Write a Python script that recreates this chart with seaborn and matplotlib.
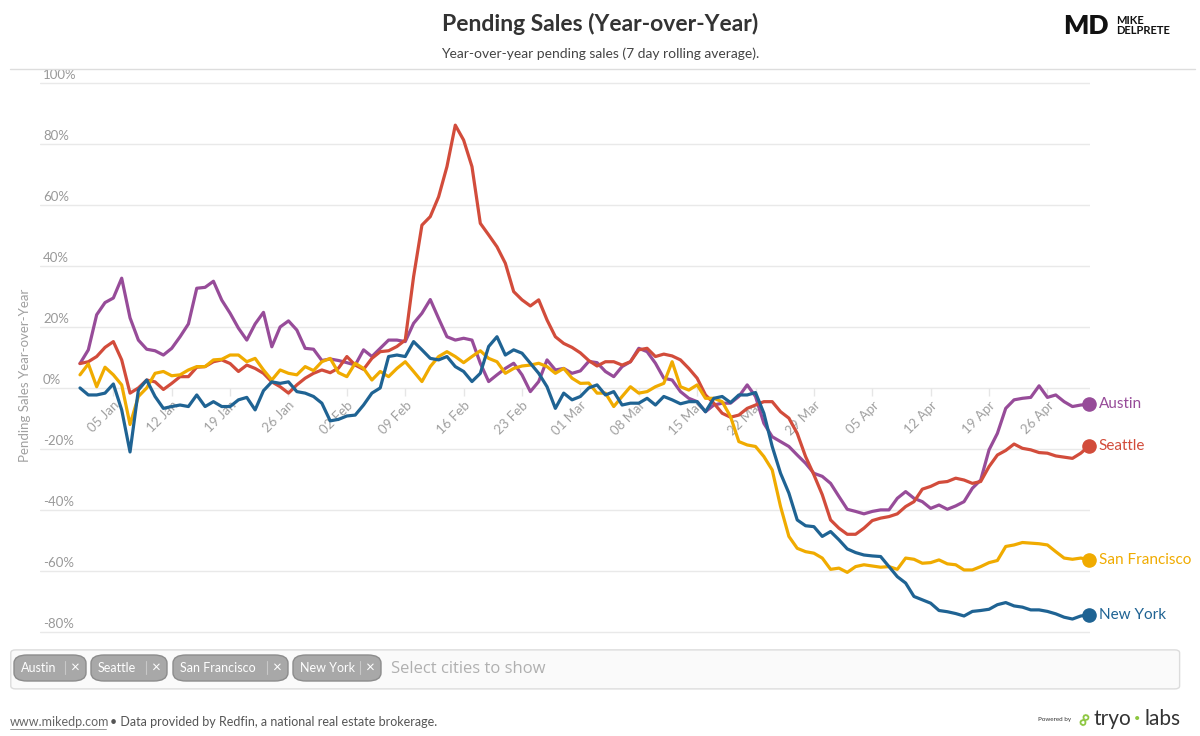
import numpy as np
import pandas as pd
import seaborn as sns
import matplotlib.pyplot as plt
from matplotlib.patches import FancyBboxPatch

# Year-over-year pending sales (%), daily from 2020-01-01 to 2020-05-01
start_date = "2020-01-01"

austin = [
    8, 12.5, 24, 28, 29.5, 36, 23, 15.7, 12.7, 12.2, 10.8, 13, 16.8, 21, 32.7, 33, 35, 28.8, 24.5, 19.6,
    15.7, 21, 24.8, 13.5, 20, 22, 19, 13, 12.7, 9, 9.5, 9,
    8.3, 7.5, 12.5, 10.3, 13, 15.7, 15.7, 15.2, 21.2, 24.5, 29, 22.8, 16.8, 15.7, 16.3, 15.7, 8.1, 2.1,
    4.3, 6.4, 8.1, 4.3, -1.2, 2.1, 9.2, 5.9, 6.4, 4.8, 5.6, 8.7, 8.3,
    5.4, 3.7, 7, 8.6, 13, 11.9, 8.1, 3.2, 2.6, -1.2, -3.4, -4.5, -7.8, -5.6, -5, -5, -2.8, 1, -2.8,
    -11.6, -16, -17.6, -19.2, -22, -24.7, -28, -29, -31.3, -35.6, -39.8, -40.5,
    -41.3, -40.5, -40, -40, -36.2, -34, -36.2, -37.3, -39.5, -38.4, -39.8, -38.7, -37.3, -32.9, -30.2,
    -20.3, -14.9, -6.7, -3.9, -3.4, -3.1, 0.7, -3.1, -2.3, -4.5, -6.1, -5.6, -5.4,
]
seattle = [
    8, 8.6, 10.3, 13.3, 15.2, 9.2, -1.7, 0, 2.6, 2, -0.5, 1.5, 3.7, 3.7, 6.8, 7, 8.6, 9.2, 8, 5.4,
    7.5, 6.4, 4.8, 2, 0.4, -1.7, 1, 3.2, 4.8, 5.9, 5, 6.5,
    10.3, 7.5, 6.1, 9.7, 11.9, 12.2, 13.6, 15.7, 36.5, 53.4, 56.2, 62.7, 72.6, 86.2, 81.3, 72.6, 54, 50.2,
    46.3, 40.9, 31.6, 28.9, 26.9, 28.9, 22.3, 16.8, 14.6, 13.3, 11.5, 9, 7.2,
    8.6, 8.6, 7.5, 8.6, 12.5, 13, 10.3, 11.1, 10.5, 9.2, 6.4, 3.2, -2.3, -5, -8.3, -9.6, -8.9, -6.7, -5.6,
    -4.5, -4.5, -7.8, -9.9, -14.9, -22.5, -28.5, -35, -43.3, -46, -48, -48,
    -46, -43.5, -42.7, -42.2, -41.3, -38.9, -37.3, -33.2, -32.3, -31, -30.7, -29.6, -30.2, -31.3, -30.7,
    -25.8, -22, -20.5, -18.4, -19.8, -20.3, -21.2, -21.4, -22.3, -22.7, -23.1, -21.4, -19,
]
san_francisco = [
    4.3, 7.9, 0.4, 6.8, 4.3, 1, -12, -2.8, 0, 4.8, 5.4, 4, 4.3, 5.9, 7, 7, 9.2, 9.4, 10.8, 10.8,
    8.6, 9.7, 5.9, 2.6, 5.9, 4.8, 4.3, 7, 5.7, 8.6, 9.7, 5,
    3.7, 8.1, 6.4, 2.6, 5.4, 3.7, 6.4, 8.6, 5.4, 2.1, 7, 10.3, 11.9, 10.3, 8.3, 10.3, 12.2, 9.7,
    8.6, 4.8, 6.4, 7.2, 7.5, 8.1, 7, 4.8, 6.4, 3.2, 1.5, 1.6, -1.7,
    -1.7, -6.1, -2.8, 0.4, -1.7, -1.2, 0.4, 1.5, 8.6, 0.4, -0.7, 1, -3.4, -3.4, -4.5, -9.4, -17.6, -18.7, -19.2,
    -22.5, -26.9, -38.9, -48.7, -52.6, -53.7, -54.2, -55.8, -59.5, -59.1, -60.5, -58.6,
    -58, -58.4, -58.8, -58.6, -59.5, -55.8, -56.2, -57.5, -57.3, -56.4, -57.7, -58, -59.7, -59.7, -58.6,
    -57.3, -56.6, -52, -51.5, -50.7, -50.9, -51.1, -51.5, -53.7, -55.8, -56.2, -55.8, -56.4,
]
new_york = [
    0, -2.3, -2.3, -1.7, 1.3, -7.2, -21, -0.7, 2.6, -2.8, -6.7, -6.1, -5.6, -6.1, -2.3, -6.1, -4.5, -6.1, -6.1, -3.9,
    -3.1, -7.2, -0.9, 2, 1.5, 2, -1.2, -1.7, -2.8, -5, -10.8, -10.3,
    -9.2, -8.9, -5.6, -1.7, 0, 10.3, 10.8, 10.3, 15.2, 12.5, 9.7, 9.2, 10.3, 7, 5.4, 2.1, 4.8, 13.6,
    16.8, 10.8, 12.5, 11.4, 8.1, 4.8, 0.4, -6.7, -1.7, -3.9, -2.8, 0, 1,
    -2.3, -1.2, -5.6, -5, -5, -3.4, -5.6, -2.8, -3.9, -5.2, -4.5, -4.5, -7.8, -3.4, -2.8, -4.8, -2.3, -2.3, -1.5,
    -8.3, -19.2, -28, -34.5, -43.3, -45.2, -45.5, -48.7, -47.1, -49.8, -52.8, -54,
    -54.8, -55.1, -55.3, -58.6, -61.9, -64, -68.4, -69.5, -70.6, -73, -73.4, -74, -74.8, -73.3, -73,
    -72.6, -71.1, -70.4, -71.5, -71.9, -72.8, -72.8, -73.3, -74.1, -75.2, -75.8, -74.8, -74.4,
]

cities = ["Austin", "Seattle", "San Francisco", "New York"]
colors = ["#974c99", "#d24c3b", "#f0ab00", "#1f6393"]
y_ticks = [100, 80, 60, 40, 20, 0, -20, -40, -60, -80]

series = {"Austin": austin, "Seattle": seattle, "San Francisco": san_francisco, "New York": new_york}
dates = pd.date_range(start_date, periods=len(austin), freq="D")
df = pd.concat(
    [pd.DataFrame({"date": dates, "value": vals, "city": name}) for name, vals in series.items()]
)

sns.set_theme(style="white")
plt.rcParams["font.family"] = ["Lato", "DejaVu Sans"]

fig = plt.figure(figsize=(12, 7.36), dpi=100)
ax = fig.add_axes([0.0333, 0.1291, 0.875, 0.7663])

palette = dict(zip(cities, colors))
sns.lineplot(data=df, x="date", y="value", hue="city", hue_order=cities,
             palette=palette, linewidth=2.3, legend=False, ax=ax,
             solid_joinstyle="round", solid_capstyle="round")

# end markers and labels
for name, col in zip(cities, colors):
    vals = series[name]
    ax.scatter([dates[-1]], [vals[-1]], s=90, color=col, zorder=5, clip_on=False)
    ax.annotate(name, (dates[-1], vals[-1]), xytext=(7, 0), textcoords="offset points",
                va="center", ha="left", color=col, fontsize=11, annotation_clip=False)

ax.set_xlim(dates[0] - pd.Timedelta(days=4.8), dates[-1] + pd.Timedelta(days=0.1))
ax.set_ylim(-83, 102)

# grid lines
for t in y_ticks:
    ax.axhline(t, color="#e9e9e9", linewidth=1, zorder=0)
    ax.text(0.003, t + 0.6, f"{t}%", transform=ax.get_yaxis_transform(),
            ha="left", va="bottom", color="#999999", fontsize=9.5)
ax.set_yticks([])

# x axis sits on the 0% line
ax.spines["bottom"].set_position(("data", 0))
for s in ax.spines.values():
    s.set_visible(False)
tick_dates = pd.date_range("2020-01-05", "2020-04-26", freq="7D")
ax.set_xticks(tick_dates)
ax.set_xticklabels([d.strftime("%d %b") for d in tick_dates])
ax.tick_params(axis="x", direction="out", length=6, width=1, color="#e6e6e6", pad=2, bottom=True,
               labelcolor="#a0a0a0", labelsize=9.5)
plt.setp(ax.get_xticklabels(), rotation=45, ha="right", rotation_mode="anchor")
ax.set_xlabel("")
ax.set_ylabel("")
fig.text(0.021, 0.49, "Pending Sales Year-over-Year", rotation=90, ha="center", va="center",
         color="#a0a0a0", fontsize=9.5)

# header
fig.text(0.5, 0.968, "Pending Sales (Year-over-Year)", ha="center", va="center",
         fontsize=16.5, fontweight="bold", color="#333333")
fig.text(0.5, 0.927, "Year-over-year pending sales (7 day rolling average).", ha="center",
         va="center", fontsize=10, color="#444444")
fig.add_artist(plt.Line2D([0.008, 0.996], [0.906, 0.906], color="#dddddd", linewidth=1))
fig.text(0.905, 0.965, "MD", ha="center", va="center", fontsize=19, fontweight="heavy", color="#111111")
fig.text(0.93, 0.965, "MIKE\nDELPRETE", ha="left", va="center", fontsize=8, fontweight="bold",
         color="#111111", linespacing=0.9)

# city selector box
fig.add_artist(FancyBboxPatch((0.009, 0.064), 0.974, 0.053, boxstyle="round,pad=0,rounding_size=0.004",
                              transform=fig.transFigure, facecolor="#fafafa", edgecolor="#dcdcdc",
                              linewidth=1))
chips = [(14, 86), (91, 167), (173, 288), (293, 381)]
for name, (x0, x1) in zip(cities, chips):
    fig.add_artist(FancyBboxPatch((x0 / 1200, 1 - 681 / 736), (x1 - x0) / 1200, 26 / 736,
                                  boxstyle="round,pad=0,rounding_size=0.011",
                                  transform=fig.transFigure, facecolor="#a8a8a8",
                                  edgecolor="#8c8c8c", linewidth=1))
    fig.text((x0 + 7) / 1200, 1 - 668 / 736, name, ha="left", va="center", fontsize=9, color="white")
    fig.add_artist(plt.Line2D([(x1 - 21) / 1200] * 2, [1 - 674 / 736, 1 - 661 / 736],
                              color="#c8c8c8", linewidth=0.8))
    fig.text((x1 - 10.5) / 1200, 1 - 668 / 736, "\u00d7", ha="center", va="center",
             fontsize=11, color="white")
fig.text(391 / 1200, 1 - 669 / 736, "Select cities to show", ha="left", va="center",
         fontsize=12, color="#b0b0b0", family=["Open Sans", "DejaVu Sans"])

# footer
fig.text(10 / 1200, 1 - 722 / 736, "www.mikedp.com", ha="left", va="center", fontsize=9,
         color="#666666")
fig.add_artist(plt.Line2D([10 / 1200, 106 / 1200], [1 - 729 / 736] * 2, color="#888888", linewidth=0.6))
fig.text(110 / 1200, 1 - 722 / 736, "\u2022 Data provided by Redfin, a national real estate brokerage.",
         ha="left", va="center", fontsize=9, color="#555555")
fig.text(1038 / 1200, 1 - 720 / 736, "Powered by", ha="left", va="center", fontsize=4.5, color="#333333")
fig.text(1084 / 1200, 1 - 719 / 736, "\u221e", ha="center", va="center", fontsize=14, rotation=60,
         color="#8cc63f", fontweight="bold")
fig.text(1094 / 1200, 1 - 719 / 736, "tryo", ha="left", va="center", fontsize=15, color="#333333")
fig.text(1137 / 1200, 1 - 719 / 736, "\u2022", ha="center", va="center", fontsize=8, color="#8cc63f")
fig.text(1145 / 1200, 1 - 719 / 736, "labs", ha="left", va="center", fontsize=15, color="#333333")

fig.savefig("out.png", dpi=100)
